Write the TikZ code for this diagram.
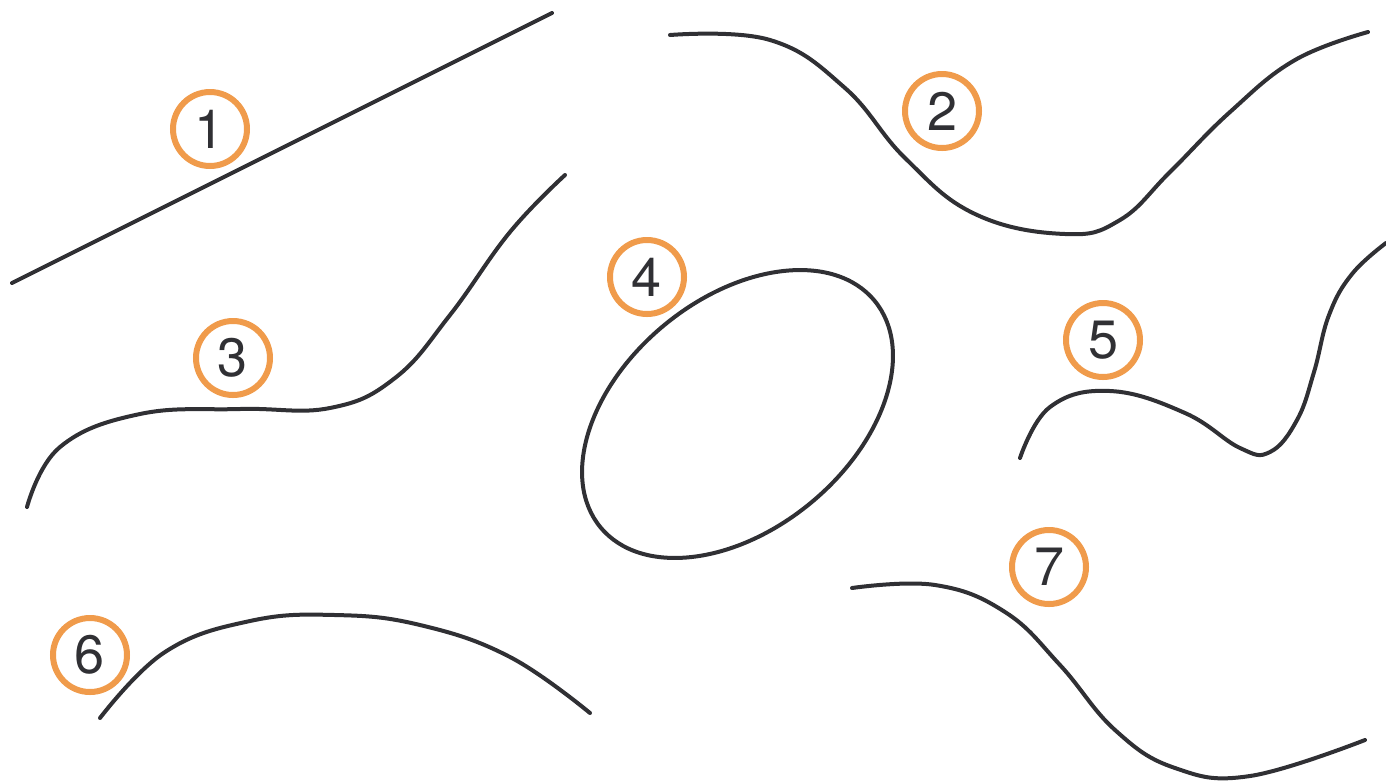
\documentclass[tikz,border=0pt]{standalone}
\usepackage{fontspec}
\setmainfont{TeX Gyre Heros}
\definecolor{ringorange}{RGB}{240,155,75}
\definecolor{inkgray}{RGB}{48,48,52}
\tikzset{
  numring/.style={circle, draw=ringorange, line width=3pt, minimum size=37pt, inner sep=0pt,
    text=inkgray, font=\fontsize{27}{27}\selectfont},
  curveline/.style={draw=inkgray, line width=2pt, line cap=round},
}
\begin{document}
\begin{tikzpicture}[x=0.5pt,y=-0.5pt]
\useasboundingbox (0,0) rectangle (1386,783);
% curve 1
\coordinate (c1a) at (12,283);
\coordinate (c1b) at (552,13);
\draw[curveline] (c1a) -- (c1b);
% curve 2
\draw[curveline] plot[smooth, tension=0.7] coordinates {(670,35) (770,40) (845,88) (905,158) (975,214) (1065,234) (1120,220) (1170,172) (1230,112) (1295,60) (1368,32)};
% curve 3
\draw[curveline] plot[smooth, tension=0.7] coordinates {(27,507) (60,447) (140,414) (240,409) (330,408) (395,378) (450,315) (510,232) (565,175)};
% ellipse 4
\draw[curveline, shift={(737.5,414)}, rotate=39.6] (0,0) ellipse [x radius=88.9pt, y radius=57.6pt];
% curve 5
\draw[curveline] plot[smooth, tension=0.7] coordinates {(1020,458) (1050,407) (1110,391) (1185,413) (1240,448) (1270,452) (1297,420) (1314,372) (1329,315) (1352,274) (1386,243)};
% curve 6
\draw[curveline] plot[smooth, tension=0.7] coordinates {(100,718) (165,652) (250,621) (335,615) (420,625) (510,657) (590,713)};
% curve 7
\draw[curveline] plot[smooth, tension=0.7] coordinates {(852,588) (935,585) (1005,612) (1060,665) (1115,730) (1175,768) (1250,776) (1365,740)};
% numbers
\node[numring] (n1) at (210,129) {1};
\node[numring] (n2) at (942,111) {2};
\node[numring] (n3) at (233,358) {3};
\node[numring] (n4) at (647,277) {4};
\node[numring] (n5) at (1103,340) {5};
\node[numring] (n6) at (90,655) {6};
\node[numring] (n7) at (1049,567) {7};
\end{tikzpicture}
\end{document}
